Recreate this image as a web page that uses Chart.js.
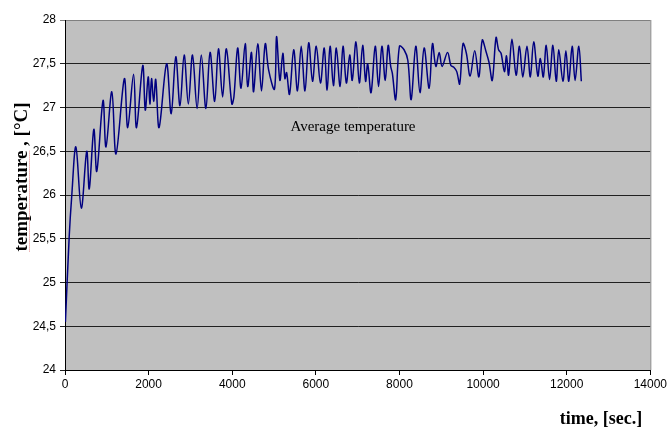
<!DOCTYPE html>
<html>
<head>
<meta charset="utf-8">
<title>Average temperature</title>
<script src="https://cdn.jsdelivr.net/npm/chart.js@4"></script>
<style>
  html, body { margin: 0; padding: 0; background: #fff; }
  #wrap { width: 669px; height: 430px; }
</style>
</head>
<body>
<div id="wrap"><canvas id="tempChart" width="669" height="430"></canvas></div>
<script>
// Data (time in seconds, temperature in °C)
const timeSec = [
  10, 100, 160, 260, 390, 520, 580, 690, 760, 910,
  980, 1120, 1220, 1420, 1500, 1640, 1710, 1860, 1920, 1990,
  2030, 2070, 2120, 2170, 2250, 2430, 2540, 2650, 2750, 2850,
  2950, 3050, 3160, 3260, 3370, 3470, 3580, 3670, 3770, 3860,
  3990, 4040, 4130, 4210, 4310, 4370, 4460, 4510, 4610, 4700,
  4790, 4870, 5010, 5060, 5140, 5210, 5260, 5300, 5370, 5470,
  5560, 5650, 5740, 5830, 5920, 6010, 6110, 6200, 6270, 6340,
  6420, 6490, 6580, 6650, 6730, 6810, 6870, 6960, 7040, 7120,
  7190, 7240, 7320, 7420, 7500, 7580, 7660, 7730, 7790, 7830,
  7910, 8000, 8110, 8200, 8280, 8390, 8490, 8590, 8710, 8790,
  8870, 8950, 9020, 9150, 9230, 9300, 9370, 9440, 9520, 9600,
  9690, 9800, 9900, 9980, 10070, 10140, 10220, 10310, 10370, 10430,
  10510, 10560, 10610, 10690, 10790, 10870, 10950, 11050, 11130, 11210,
  11310, 11370, 11440, 11510, 11590, 11670, 11750, 11810, 11910, 11980,
  12050, 12130, 12200, 12290, 12350
];
const avgTemp = [
  24.55, 25.52, 25.98, 26.55, 25.85, 26.50, 26.07, 26.75, 26.27, 27.08,
  26.55, 27.18, 26.47, 27.33, 26.77, 27.38, 26.77, 27.48, 26.97, 27.35,
  27.04, 27.33, 27.07, 27.32, 26.77, 27.50, 26.93, 27.58, 27.02, 27.60,
  27.04, 27.60, 26.99, 27.60, 26.99, 27.63, 27.07, 27.67, 27.12, 27.67,
  27.04, 27.12, 27.68, 27.22, 27.73, 27.24, 27.63, 27.18, 27.73, 27.19,
  27.73, 27.43, 27.21, 27.81, 27.31, 27.62, 27.33, 27.40, 27.15, 27.66,
  27.19, 27.70, 27.19, 27.74, 27.30, 27.70, 27.28, 27.68, 27.20, 27.70,
  27.25, 27.68, 27.24, 27.70, 27.28, 27.60, 27.31, 27.75, 27.28, 27.71,
  27.30, 27.50, 27.17, 27.70, 27.24, 27.70, 27.31, 27.71, 27.47, 27.39,
  27.09, 27.70, 27.66, 27.54, 27.09, 27.70, 27.17, 27.68, 27.22, 27.73,
  27.47, 27.63, 27.47, 27.63, 27.48, 27.46, 27.41, 27.27, 27.73, 27.62,
  27.36, 27.65, 27.35, 27.77, 27.64, 27.52, 27.31, 27.80, 27.66, 27.62,
  27.41, 27.59, 27.37, 27.78, 27.37, 27.70, 27.35, 27.70, 27.35, 27.75,
  27.36, 27.56, 27.35, 27.71, 27.32, 27.71, 27.30, 27.66, 27.30, 27.65,
  27.30, 27.70, 27.31, 27.70, 27.30
];
const xTicks = [0, 2000, 4000, 6000, 8000, 10000, 12000, 14000];
const yTicks = [24, 24.5, 25, 25.5, 26, 26.5, 27, 27.5, 28];

const seriesLabel = 'Average temperature';
const xTitle = 'time, [sec.]';
const yTitle = 'temperature , [°C]';

// gray plot area, right border and the hand placed texts
const plotDecor = {
  id: 'plotDecor',
  beforeDraw(chart) {
    const { ctx, chartArea: a } = chart;
    ctx.save();
    ctx.fillStyle = '#c0c0c0';
    ctx.fillRect(a.left, a.top, a.right - a.left, a.bottom - a.top);
    ctx.restore();
  },
  afterDraw(chart) {
    const { ctx, chartArea: a } = chart;
    ctx.save();
    ctx.strokeStyle = '#808080';
    ctx.lineWidth = 1;
    ctx.beginPath();
    ctx.moveTo(a.right + 0.5, a.top);
    ctx.lineTo(a.right + 0.5, a.bottom);
    ctx.stroke();

    ctx.fillStyle = '#000';
    ctx.textAlign = 'center';
    ctx.textBaseline = 'middle';
    ctx.font = '15px "Liberation Serif", serif';
    ctx.fillText(seriesLabel, 353, 127);

    ctx.font = 'bold 18px "Liberation Serif", serif';
    ctx.fillText(xTitle, 601, 419);

    ctx.translate(22, 177);
    ctx.rotate(-Math.PI / 2);
    ctx.font = 'bold 19px "Liberation Serif", serif';
    ctx.fillText(yTitle, 0, 0);
    // spell-check squiggle under "temperature"
    const w = ctx.measureText(yTitle).width;
    const wWord = ctx.measureText('temperature').width;
    ctx.strokeStyle = '#e08080';
    ctx.setLineDash([1, 1]);
    ctx.beginPath();
    ctx.moveTo(-w / 2, 7.5);
    ctx.lineTo(-w / 2 + wWord, 7.5);
    ctx.stroke();
    ctx.restore();
  }
};

const chart = new Chart(document.getElementById('tempChart'), {
  type: 'line',
  data: {
    datasets: [{
      label: seriesLabel,
      data: timeSec.map((t, i) => ({ x: t, y: avgTemp[i] })),
      borderColor: '#000080',
      borderWidth: 1.5,
      pointRadius: 0,
      tension: 0.35,
      fill: false
    }]
  },
  options: {
    responsive: false,
    animation: false,
    devicePixelRatio: 1,
    layout: { padding: { top: 20, right: 17, left: 0, bottom: 0 } },
    plugins: { legend: { display: false }, tooltip: { enabled: false } },
    scales: {
      x: {
        type: 'linear',
        min: 0,
        max: 14000,
        afterBuildTicks: (axis) => { axis.ticks = xTicks.map(v => ({ value: v })); },
        afterFit: (axis) => { axis.height = 60; },
        border: { display: true, color: '#000', width: 1 },
        grid: { drawOnChartArea: false, drawTicks: true, tickLength: 5, color: '#000' },
        ticks: {
          color: '#000',
          padding: 2,
          maxRotation: 0,
          font: { family: '"Liberation Sans", Arial, sans-serif', size: 12 },
          callback: (v) => String(v)
        }
      },
      y: {
        min: 24,
        max: 28,
        afterBuildTicks: (axis) => { axis.ticks = yTicks.map(v => ({ value: v })); },
        afterFit: (axis) => { axis.width = 65; },
        border: { display: true, color: '#000', width: 1 },
        grid: {
          drawOnChartArea: true,
          drawTicks: true,
          tickLength: 5,
          color: (c) => (c.tick && c.tick.value === 28 ? '#808080' : '#202020'),
          lineWidth: 1
        },
        ticks: {
          color: '#000',
          padding: 4,
          font: { family: '"Liberation Sans", Arial, sans-serif', size: 12 },
          callback: (v) => String(v).replace('.', ',')
        }
      }
    }
  },
  plugins: [plotDecor]
});
</script>
</body>
</html>
